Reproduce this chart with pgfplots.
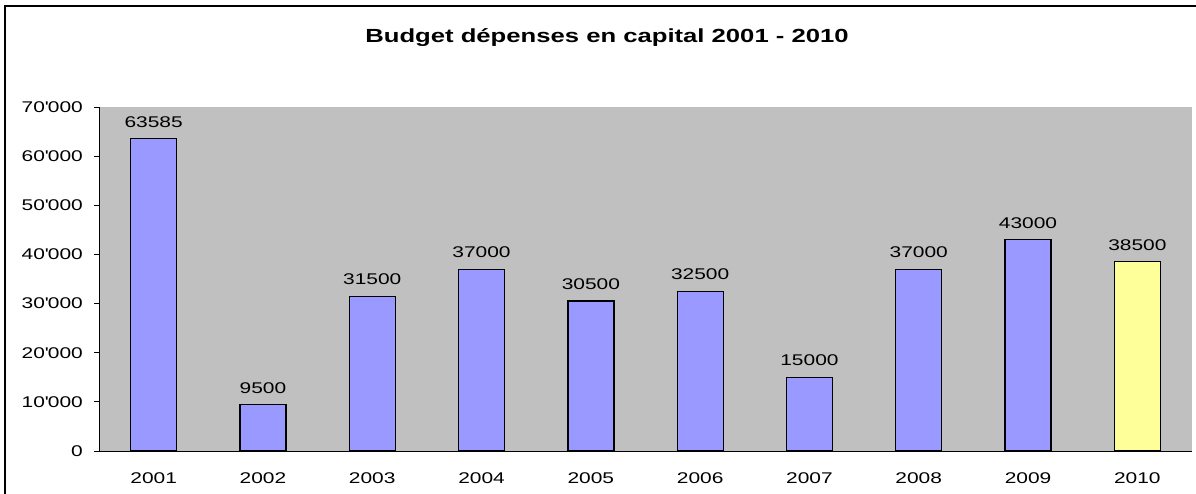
\documentclass[border=0pt]{standalone}
\usepackage{pgfplots}
\pgfplotsset{compat=1.18}
\usepackage{fontspec}
\setmainfont{Liberation Sans}[FakeStretch=1.35]
\definecolor{plotgrey}{HTML}{C0C0C0}
\definecolor{barblue}{HTML}{9999FF}
\definecolor{baryellow}{HTML}{FFFF99}
\begin{document}
\begin{tikzpicture}[x=1pt,y=1pt]
\path[use as bounding box] (0,0) rectangle (1196,493);
\draw[line width=2pt] (4.5,-20) -- (4.5,487) -- (1220,487);
\node[font=\fontsize{19}{22}\selectfont\bfseries, inner sep=0pt] at (607,455) {Budget dépenses en capital 2001 - 2010};
\begin{axis}[
  at={(99pt,42pt)}, anchor=south west,
  width=1093pt, height=344pt, scale only axis,
  xmin=-0.5, xmax=9.5, ymin=0, ymax=70000,
  axis background/.style={fill=plotgrey},
  axis x line*=bottom, axis y line*=left,
  axis line style={-, line width=1pt},
  xtick={0,...,9},
  xticklabels={2001,2002,2003,2004,2005,2006,2007,2008,2009,2010},
  minor xtick={-0.5,0.5,...,9.5},
  xtick style={draw=none},
  minor tick length=5pt,
  major tick length=5pt,
  tick align=outside,
  scaled y ticks=false,
  ytick={0,10000,...,70000},
  yticklabels={0,10\textquotesingle000,20\textquotesingle000,30\textquotesingle000,40\textquotesingle000,50\textquotesingle000,60\textquotesingle000,70\textquotesingle000},
  ytick style={line width=1pt, black},
  minor x tick style={line width=1pt, black},
  ticklabel style={font=\fontsize{15.5}{18}\selectfont},
  yticklabel style={anchor=east, inner sep=0pt, xshift=-11pt},
  xticklabel style={anchor=north, inner sep=0pt, yshift=-16pt},
  /pgf/number format/assume math mode=true,
  ybar, bar width=46pt, bar shift=0pt,
  nodes near coords={\pgfmathprintnumber[fixed,1000 sep={}]{\pgfplotspointmeta}},
  every node near coord/.append style={font=\fontsize{15.5}{18}\selectfont, inner sep=0pt, anchor=south, yshift=10.5pt},
]
\addplot[fill=barblue, draw=black, line width=1.3pt] coordinates {
(0,63585) (1,9500) (2,31500) (3,37000) (4,30500) (5,32500) (6,15000) (7,37000) (8,43000)};
\addplot[fill=baryellow, draw=black, line width=1.3pt] coordinates {(9,38500)};
\end{axis}
\end{tikzpicture}
\end{document}
